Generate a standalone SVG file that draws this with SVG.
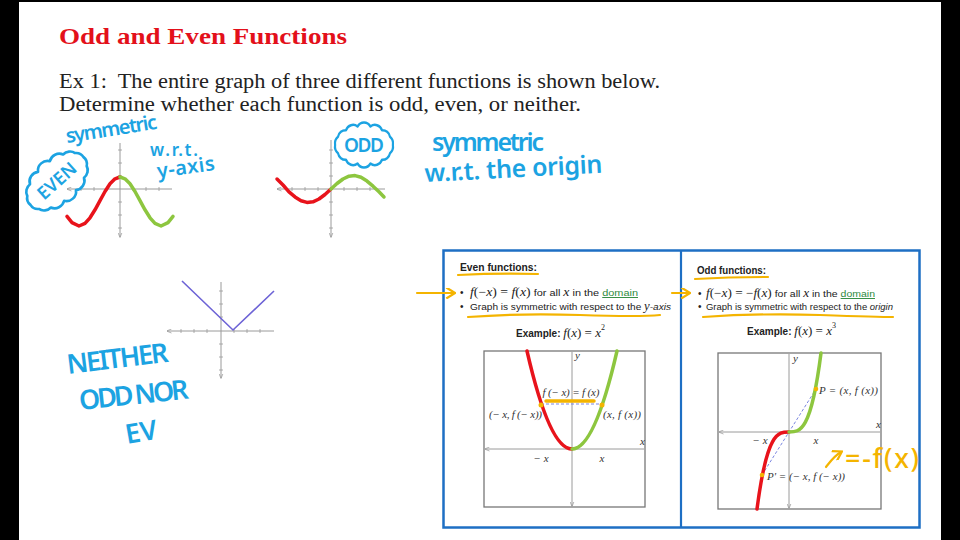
<svg xmlns="http://www.w3.org/2000/svg" width="960" height="540" viewBox="0 0 960 540">
<style>
.hand{font-family:"Noto Sans","DejaVu Sans",sans-serif;font-weight:600;fill:#1ca3e2}
.ink{fill:none;stroke:#1ca3e2;stroke-width:2.6;stroke-linecap:round;stroke-linejoin:round}
.gold{fill:none;stroke:#f4b400;stroke-width:2.2;stroke-linecap:round;stroke-linejoin:round}
.ax{fill:none;stroke:#9a9a9a;stroke-width:1}
.tick{fill:none;stroke:#9a9a9a;stroke-width:0.8}
.red{fill:none;stroke:#e8131b;stroke-width:3.5;stroke-linecap:round;stroke-linejoin:round}
.grn{fill:none;stroke:#8dc63f;stroke-width:3.5;stroke-linecap:round;stroke-linejoin:round}
.sans{font-family:"Liberation Sans",Arial,sans-serif;fill:#222}
.ser{font-family:"Liberation Serif","Times New Roman",serif;fill:#222}
.lbl{font-family:"Liberation Serif","Times New Roman",serif;font-style:italic;font-size:11px;fill:#333}
.frame{fill:#fff;stroke:#777;stroke-width:1.3}
</style>
<defs>
<marker id="ah" viewBox="0 0 10 10" refX="9" refY="5" markerWidth="5" markerHeight="5" orient="auto-start-reverse"><path d="M0,1 L10,5 L0,9" fill="none" stroke="#9a9a9a" stroke-width="1.5"/></marker>
<marker id="gh" viewBox="0 0 10 10" refX="8" refY="5" markerWidth="5" markerHeight="5" orient="auto"><path d="M1,0 L9,5 L1,10" fill="none" stroke="#f4b400" stroke-width="2"/></marker>
<path id="cloud" d="M34,0 A9,9 0 0 1 30.6,8.7 A9,9 0 0 1 21.2,15.6 A9,9 0 0 1 7.6,19.5 A9,9 0 0 1 -7.6,19.5 A9,9 0 0 1 -21.2,15.6 A9,9 0 0 1 -30.6,8.7 A9,9 0 0 1 -34,0 A9,9 0 0 1 -30.6,-8.7 A9,9 0 0 1 -21.2,-15.6 A9,9 0 0 1 -7.6,-19.5 A9,9 0 0 1 7.6,-19.5 A9,9 0 0 1 21.2,-15.6 A9,9 0 0 1 30.6,-8.7 A9,9 0 0 1 34,0 Z"/>
</defs>
<rect x="0" y="0" width="960" height="540" fill="#fff"/>
<rect x="0" y="0" width="19" height="540" fill="#000"/>
<rect x="941" y="0" width="19" height="540" fill="#000"/>
<rect x="0" y="0" width="960" height="2" fill="#000"/>

<g id="title">
<text x="59" y="44" font-family="Liberation Serif,serif" font-weight="bold" font-size="24" fill="#e3101a" textLength="288" lengthAdjust="spacingAndGlyphs">Odd and Even Functions</text>
</g>
<g id="question" font-family="Liberation Serif,serif" font-size="20" fill="#222">
<text x="59" y="88" textLength="601" lengthAdjust="spacingAndGlyphs" xml:space="preserve">Ex 1:  The entire graph of three different functions is shown below.</text>
<text x="59" y="111" textLength="522" lengthAdjust="spacingAndGlyphs">Determine whether each function is odd, even, or neither.</text>
</g>

<g id="graph-even">
<path class="ax" d="M67,189 H172 M120,143 V237" marker-start="url(#ah)" marker-end="url(#ah)"/>
<path class="tick" d="M81,187 v4 M94,187 v4 M107,187 v4 M133,187 v4 M146,187 v4 M159,187 v4 M118,150 h4 M118,163 h4 M118,176 h4 M118,202 h4 M118,215 h4 M118,228 h4"/>
<polyline class="red" points="67,216.3 72,222.6 79,226 85,223.4 90,217.8 95,209.8 100,200.6 105,191.5 110,183.8 115,178.8 120,177"/>
<polyline class="grn" points="120,177 125,178.8 130,183.8 135,191.5 140,200.6 145,209.8 150,217.8 155,223.4 161,226 168,222.6 173,216.3"/>
</g>
<g id="graph-odd">
<path class="ax" d="M277,189 H385 M331,140 V237" marker-start="url(#ah)" marker-end="url(#ah)"/>
<path class="tick" d="M292,187 v4 M305,187 v4 M318,187 v4 M344,187 v4 M357,187 v4 M370,187 v4 M329,150 h4 M329,163 h4 M329,176 h4 M329,202 h4 M329,215 h4 M329,228 h4"/>
<polyline class="red" points="277,179 283,185 289,191.8 295,196.9 301,200.7 307,202.4 313,201.8 319,199 325,194.5 331,189"/>
<polyline class="grn" points="331,189 337,183.5 343,179 349,176.2 355,175.6 361,177.3 367,181.1 373,186.2 379,191.8 384,197"/>
</g>
<g id="graph-neither">
<path class="ax" d="M167,331 H274 M221,282 V378" marker-start="url(#ah)" marker-end="url(#ah)"/>
<path class="tick" d="M181,329 v4 M194,329 v4 M207,329 v4 M234,329 v4 M247,329 v4 M260,329 v4 M219,291 h4 M219,304 h4 M219,317 h4 M219,344 h4 M219,357 h4 M219,370 h4"/>
<polyline points="182,281 233,330 274,291" fill="none" stroke="#6d63d6" stroke-width="1.6"/>
</g>

<g id="note-even">
<text class="hand" x="67" y="143" font-size="20" transform="rotate(-9 67 143)" textLength="92">symmetric</text>
<text class="hand" x="150" y="156" font-size="17" textLength="48">w.r.t.</text>
<text class="hand" x="158" y="178" font-size="20" transform="rotate(-8 158 178)" textLength="58">y-axis</text>
<use href="#cloud" class="ink" transform="translate(57,181) rotate(-42) scale(1.05,1)"/>
<text class="hand" x="57" y="187" font-size="18" text-anchor="middle" transform="rotate(-42 57 181)">EVEN</text>
</g>
<g id="note-odd">
<use href="#cloud" class="ink" transform="translate(364,145) scale(0.85,0.95)"/>
<text class="hand" x="364" y="152" font-size="19" text-anchor="middle" textLength="40">ODD</text>
<text class="hand" x="432" y="151" font-size="25" textLength="112">symmetric</text>
<text class="hand" x="425" y="182" font-size="25" textLength="178" transform="rotate(-3 425 182)">w.r.t. the origin</text>
</g>
<g id="note-neither">
<text class="hand" x="68" y="374" font-size="27" textLength="102" transform="rotate(-7 68 374)">NEITHER</text>
<text class="hand" x="80" y="410" font-size="27" textLength="110" transform="rotate(-6 80 410)">ODD NOR</text>
<text class="hand" x="127" y="444" font-size="27" transform="rotate(-10 127 444)">EV</text>
</g>

<g id="definition-box">
<rect x="443.5" y="250.5" width="476" height="277" fill="none" stroke="#1e6fc4" stroke-width="2.5"/>
<line x1="681" y1="250" x2="681" y2="528" stroke="#1e6fc4" stroke-width="2.2"/>
</g>

<g id="even-panel">
<text class="sans" x="460" y="271" font-size="10" font-weight="bold" textLength="77" lengthAdjust="spacingAndGlyphs">Even functions:</text>
<text class="sans" x="460" y="296" font-size="10">•</text>
<text x="470" y="296" textLength="168" lengthAdjust="spacingAndGlyphs"><tspan class="ser" font-size="12"><tspan font-style="italic">f</tspan>(−<tspan font-style="italic">x</tspan>) = <tspan font-style="italic">f</tspan>(<tspan font-style="italic">x</tspan>)</tspan><tspan class="sans" font-size="9.5"> for all </tspan><tspan class="ser" font-size="12" font-style="italic">x</tspan><tspan class="sans" font-size="9.5"> in the </tspan><tspan class="sans" font-size="9.5" text-decoration="underline" style="fill:#2e8b3e">domain</tspan></text>
<text class="sans" x="460" y="310" font-size="10">•</text>
<text x="470" y="310" textLength="201" lengthAdjust="spacingAndGlyphs"><tspan class="sans" font-size="9.5">Graph is symmetric with respect to the </tspan><tspan class="ser" font-size="12" font-style="italic">y</tspan><tspan class="sans" font-size="9.5" font-style="italic">-axis</tspan></text>
<text x="516" y="337"><tspan class="sans" font-size="10" font-weight="bold">Example: </tspan><tspan class="ser" font-size="13"><tspan font-style="italic">f</tspan>(<tspan font-style="italic">x</tspan>) = <tspan font-style="italic">x</tspan></tspan><tspan class="ser" font-size="8" dy="-7">2</tspan></text>
<rect class="frame" x="484" y="351" width="161" height="156"/>
<path class="ax" d="M485,449 H644 M572,352 V506" marker-start="url(#ah)" marker-end="url(#ah)"/>
<text class="lbl" x="575" y="359" font-size="6">y</text>
<text class="lbl" x="640" y="445" font-size="6">x</text>
<line x1="541" y1="404" x2="602" y2="404" stroke="#7b86e0" stroke-width="1" stroke-dasharray="3,2"/>
<path class="red" d="M527,351 Q549.5,449 572,449"/>
<path class="grn" d="M572,449 Q594.5,449 617,351"/>
<circle cx="541" cy="405" r="2.5" fill="#f4b400"/>
<circle cx="602" cy="405" r="2.5" fill="#f4b400"/>
<text class="lbl" x="571" y="396" text-anchor="middle" textLength="57">f (− x) = f (x)</text>
<text class="lbl" x="489" y="418" textLength="53">(− x, f (− x))</text>
<text class="lbl" x="603" y="418" textLength="38">(x, f (x))</text>
<text class="lbl" x="541" y="462" text-anchor="middle">− x</text>
<text class="lbl" x="602" y="462" text-anchor="middle">x</text>
</g>

<g id="odd-panel">
<text class="sans" x="697" y="274" font-size="10" font-weight="bold" textLength="69" lengthAdjust="spacingAndGlyphs">Odd functions:</text>
<text class="sans" x="698" y="297" font-size="10">•</text>
<text x="706" y="297" textLength="169" lengthAdjust="spacingAndGlyphs"><tspan class="ser" font-size="12"><tspan font-style="italic">f</tspan>(−<tspan font-style="italic">x</tspan>) = −<tspan font-style="italic">f</tspan>(<tspan font-style="italic">x</tspan>)</tspan><tspan class="sans" font-size="9.5"> for all </tspan><tspan class="ser" font-size="12" font-style="italic">x</tspan><tspan class="sans" font-size="9.5"> in the </tspan><tspan class="sans" font-size="9.5" text-decoration="underline" style="fill:#2e8b3e">domain</tspan></text>
<text class="sans" x="698" y="310" font-size="10">•</text>
<text x="706" y="310" textLength="187" lengthAdjust="spacingAndGlyphs"><tspan class="sans" font-size="9.5">Graph is symmetric with respect to the </tspan><tspan class="sans" font-size="9.5" font-style="italic">origin</tspan></text>
<text x="747" y="335"><tspan class="sans" font-size="10" font-weight="bold">Example: </tspan><tspan class="ser" font-size="13"><tspan font-style="italic">f</tspan>(<tspan font-style="italic">x</tspan>) = <tspan font-style="italic">x</tspan></tspan><tspan class="ser" font-size="8" dy="-7">3</tspan></text>
<rect class="frame" x="718" y="353" width="163" height="156"/>
<path class="ax" d="M719,432 H880 M789,354 V508" marker-start="url(#ah)" marker-end="url(#ah)"/>
<text class="lbl" x="793" y="362" font-size="6">y</text>
<text class="lbl" x="876" y="428" font-size="6">x</text>
<line x1="762" y1="475" x2="816" y2="389" stroke="#7b86e0" stroke-width="1" stroke-dasharray="3,2"/>
<path class="red" d="M789,432 C778,432 767,432 757,509"/>
<path class="grn" d="M789,432 C800,432 811,432 821,353"/>
<circle cx="816" cy="389" r="2.3" fill="#f4b400"/>
<circle cx="762" cy="475" r="2.3" fill="#f4b400"/>
<text class="lbl" x="819" y="394" textLength="59">P = (x, f (x))</text>
<text class="lbl" x="767" y="480" textLength="78">P' = (− x, f (− x))</text>
<text class="lbl" x="760" y="444" text-anchor="middle">− x</text>
<text class="lbl" x="816" y="444" text-anchor="middle">x</text>
</g>

<g id="connectors">
<path class="gold" d="M417,293 H454" marker-end="url(#gh)"/>
<path class="gold" d="M672,293 H689" marker-end="url(#gh)"/>
<path class="gold" d="M826,467 C830,462 834,456 841,452" marker-end="url(#gh)"/>
<path class="gold" d="M458,275 Q498,273 538,274"/>
<path class="gold" d="M468,317 Q520,313 580,315 T660,315"/>
<path class="gold" d="M695,279 Q730,277 768,277"/>
<path class="gold" d="M703,317 Q760,313 820,315 T893,317"/>
<path d="M546,401 H594" fill="none" stroke="#f4b400" stroke-width="3.5" stroke-linecap="round"/>
<text x="845" y="468" font-family="Noto Sans,DejaVu Sans,sans-serif" font-size="27" font-weight="500" fill="#f4b400" textLength="74">=-f(x)</text>
</g>
</svg>
